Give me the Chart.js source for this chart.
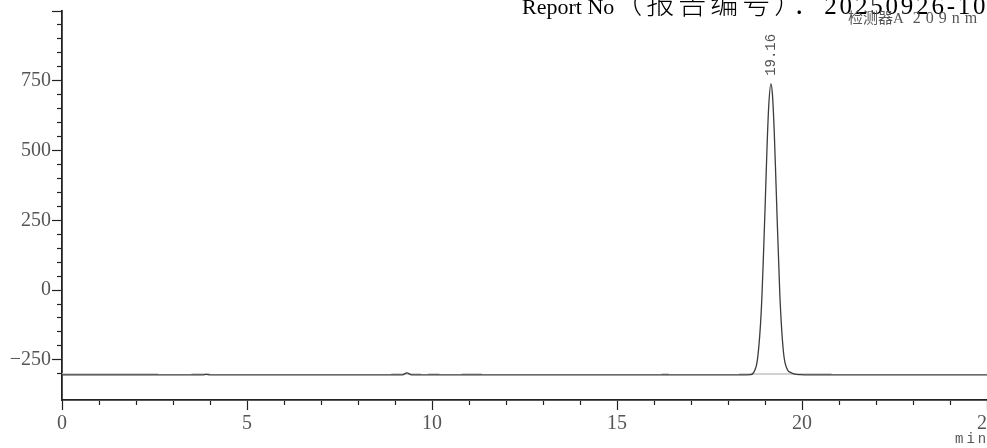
<!DOCTYPE html>
<html>
<head>
<meta charset="utf-8">
<script src="https://cdn.jsdelivr.net/npm/chart.js@4"></script>
<style>
  html, body { margin: 0; padding: 0; background: #fff; overflow: hidden; }
  #wrap { position: relative; width: 987px; height: 448px; }
  .txt { position: absolute; white-space: nowrap; }
  #report { left: 522px; top: -5px; font: 22px/24px "Liberation Serif", "Noto Sans CJK SC", serif; color: #000; }
  #report .cjk { font-size: 28px; font-weight: 300; line-height: 0; letter-spacing: 4px; font-family: "Noto Sans CJK SC", serif; }
  #report .num { font-size: 25px; line-height: 0; letter-spacing: 2.8px; }
  #detector { left: 848px; top: 10px; font: 15px/16px "Liberation Serif", "Noto Sans CJK SC", serif; color: #555; }
  #detector .num { font-size: 16px; line-height: 0; letter-spacing: 5px; margin-left: 6px; }
  #unit { left: 955px; top: 431px; font: 14px/16px "Liberation Mono", monospace; color: #555; letter-spacing: 3px; }
</style>
</head>
<body>
<div id="wrap">
  <canvas id="chart" width="987" height="448"></canvas>
  <div class="txt" id="report">Report No<span class="cjk">（报告编号）：</span><span class="num">20250926-10</span></div>
  <div class="txt" id="detector">检测器A <span class="num">209nm</span></div>
  <div class="txt" id="unit">min</div>
</div>
<script>
const ctx = document.getElementById("chart");

// retention time (min) and detector signal (mV)
const times = [0, 3.8, 3.9, 4.0, 9.2, 9.32, 9.45, 16.3, 18.4, 18.6, 18.7, 18.8, 18.9, 19.0, 19.05, 19.1, 19.16,
  19.2, 19.25, 19.3, 19.4, 19.5, 19.6, 19.7, 19.8, 19.95, 20.2, 25];
const signal = [-304, -304, -302, -304, -304, -297, -304, -304, -304, -303, -294, -245, -72, 286, 493, 658, 739,
  702, 567, 371, -14, -224, -284, -296, -301, -303, -304, -304];

// integration baseline pieces
const baseStart = [0, 3.5, 8.9, 9.9, 10.8, 16.2, 18.3];
const baseEnd = [2.6, 4.0, 9.7, 10.2, 11.35, 16.4, 20.8];
const baseLevel = -301;

// peak labels
const peakTimes = [19.16];
const peakTops = [739];
const peakNames = ["19.16"];

const yMin = -394;
const yMax = 1000;

let signalPts = [];
times.forEach((t, i) => {
  signalPts.push({ x: t, y: signal[i] });
});

let basePts = [];
baseStart.forEach((s, i) => {
  basePts.push({ x: s, y: baseLevel });
  basePts.push({ x: baseEnd[i], y: baseLevel });
  basePts.push({ x: baseEnd[i], y: null });
});

const tickFont = { family: "Liberation Serif", size: 20 };
const tickGrey = "#555";
const axisColor = "#222";

const peakLabels = {
  id: "peakLabels",
  afterDatasetsDraw(chart) {
    const c = chart.ctx;
    const xs = chart.scales.x;
    const ys = chart.scales.y;
    c.save();
    c.fillStyle = "#555";
    c.font = "14px 'Liberation Mono'";
    c.textAlign = "left";
    c.textBaseline = "middle";
    peakTimes.forEach((t, i) => {
      c.save();
      c.translate(xs.getPixelForValue(t), ys.getPixelForValue(peakTops[i]) - 8);
      c.rotate(-Math.PI / 2);
      c.fillText(peakNames[i], 0, 0);
      c.restore();
    });
    c.restore();
  }
};

function onlySteps(step) {
  return (s) => {
    s.ticks = s.ticks.filter((t) => Math.abs(t.value / step - Math.round(t.value / step)) < 1e-6);
  };
}

new Chart(ctx, {
  type: "line",
  data: {
    datasets: [
      {
        label: "signal",
        data: signalPts,
        borderColor: "#3c3c3c",
        borderWidth: 1.3,
        pointRadius: 0,
        cubicInterpolationMode: "monotone",
        xAxisID: "x",
        yAxisID: "y",
        order: 1
      },
      {
        label: "baseline",
        data: basePts,
        borderColor: "#c4c4c4",
        borderWidth: 1.5,
        pointRadius: 0,
        spanGaps: false,
        xAxisID: "x",
        yAxisID: "y",
        order: 2
      }
    ]
  },
  options: {
    responsive: false,
    animation: false,
    devicePixelRatio: 1,
    layout: { padding: { top: 11, left: 0, right: 0, bottom: 0 } },
    plugins: {
      legend: { display: false },
      tooltip: { enabled: false }
    },
    scales: {
      x: {
        type: "linear",
        position: "bottom",
        weight: 1,
        min: 0,
        max: 25,
        ticks: { stepSize: 5, font: tickFont, color: tickGrey, padding: 2, maxRotation: 0, autoSkip: false },
        grid: { drawOnChartArea: false, tickLength: 5, tickColor: axisColor, tickWidth: 1.2 },
        border: { display: false },
        afterBuildTicks: onlySteps(5),
        afterFit(s) { s.height = 43; s.paddingLeft = 0; s.paddingRight = 0; }
      },
      x2: {
        type: "linear",
        position: "bottom",
        weight: 0,
        min: 0,
        max: 25,
        ticks: { display: false, stepSize: 1 },
        grid: { drawOnChartArea: false, tickLength: 5, tickColor: axisColor, tickWidth: 1.2 },
        border: { display: true, color: axisColor, width: 1.8 },
        afterBuildTicks: onlySteps(1),
        afterFit(s) { s.height = 5; s.paddingLeft = 0; s.paddingRight = 0; }
      },
      y: {
        type: "linear",
        position: "left",
        weight: 1,
        min: yMin,
        max: yMax,
        ticks: {
          stepSize: 250, font: tickFont, color: tickGrey, padding: 1,
          // top label is hidden under the report header in the original
          callback: (v) => (v >= yMax ? "" : v < 0 ? "\u2212" + (-v) : String(v))
        },
        grid: { drawOnChartArea: false, tickLength: 5, tickColor: axisColor, tickWidth: 1.2 },
        border: { display: false },
        afterBuildTicks: onlySteps(250),
        afterFit(s) { s.width = 57; s.paddingTop = 0; s.paddingBottom = 0; }
      },
      y2: {
        type: "linear",
        position: "left",
        weight: 0,
        min: yMin,
        max: yMax,
        ticks: { display: false, stepSize: 50 },
        grid: { drawOnChartArea: false, tickLength: 5, tickColor: axisColor, tickWidth: 1.2 },
        border: { display: true, color: axisColor, width: 1.8 },
        afterBuildTicks: onlySteps(50),
        afterFit(s) { s.width = 5; s.paddingTop = 0; s.paddingBottom = 0; }
      }
    }
  },
  plugins: [peakLabels]
});
</script>
</body>
</html>
